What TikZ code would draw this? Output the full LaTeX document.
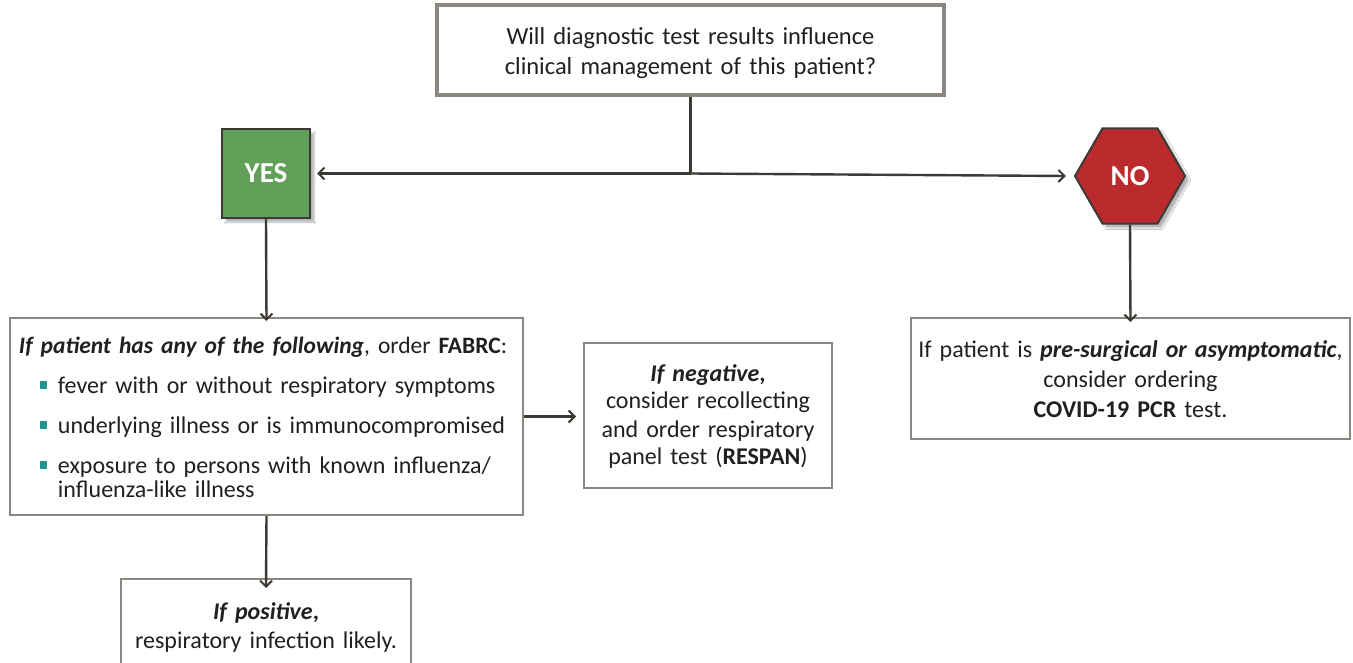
\documentclass[tikz,border=0pt]{standalone}
\usepackage{fontspec}
\setmainfont{Carlito}
\usetikzlibrary{arrows.meta,shapes.geometric,shadows.blur}
\definecolor{boxgray}{HTML}{8B8680}
\definecolor{linedark}{HTML}{3D3A36}
\definecolor{yesgreen}{HTML}{62A05A}
\definecolor{nored}{HTML}{BB2A2C}
\definecolor{bulteal}{HTML}{23938F}
\definecolor{txt}{HTML}{231F20}
\newcommand{\bul}{\textcolor{bulteal}{\rule[0.18em]{0.3em}{0.3em}}}
\begin{document}
\begin{tikzpicture}[x=1pt,y=-1pt,
  infobox/.style={draw=boxgray,line width=2pt,fill=white,text=txt,inner sep=0pt,align=center,font=\fontsize{24}{29}\selectfont},
  conn/.style={draw=linedark,line width=2.4pt},
  arr/.style={conn,-{Straight Barb[length=6pt,width=12pt,line width=2pt]}},
  decision/.style={draw=linedark,line width=2pt,text=white,font=\fontsize{29}{30}\selectfont\bfseries,inner sep=0pt,
    blur shadow={shadow xshift=4pt,shadow yshift=-4pt,shadow blur steps=6,shadow opacity=30}}
]
\useasboundingbox[fill=white] (0,0) rectangle (1353,663);

\node[infobox,line width=4pt,minimum width=507pt,minimum height=90pt,text width=497pt,
  text height=40pt,text depth=50pt,font=\fontsize{24.5}{29.5}\selectfont] (q) at (690.5,50)
  {Will diagnostic test results influence\\clinical management of this patient?};

\node[decision,fill=yesgreen,minimum width=88pt,minimum height=89pt] (yes) at (266,173.5) {YES};
\node[decision,fill=nored,regular polygon,regular polygon sides=6,minimum size=110pt] (no) at (1130,176) {NO};

\node[infobox,minimum width=513pt,minimum height=197pt,align=left,text width=495pt,
  text height=35pt,text depth=162pt,font=\fontsize{24}{24}\selectfont] (fab) at (266.5,416.5)
  {\makebox[0pt][l]{\fontsize{23.5}{24}\selectfont\textbf{\textit{If patient has any of the following}}, order \textbf{FABRC}:}\\[16pt]
   \makebox[39pt][r]{\bul\hspace{11pt}}fever with or without respiratory symptoms\\[16pt]
   \makebox[39pt][r]{\bul\hspace{11pt}}underlying illness or is immunocompromised\\[16pt]
   \makebox[39pt][r]{\bul\hspace{11pt}}exposure to persons with known influenza/\\
   \makebox[39pt]{}influenza-like illness};

\node[infobox,minimum width=248pt,minimum height=145pt,text width=238pt,
  text height=38pt,text depth=107pt,font=\fontsize{24}{28}\selectfont] (neg) at (708,415.5)
  {\textbf{\textit{If negative},}\\consider recollecting\\and order respiratory\\panel test (\textbf{RESPAN})};

\node[infobox,minimum width=290pt,minimum height=100pt,text width=280pt,anchor=north,
  text height=40pt,text depth=60pt] (pos) at (266,578)
  {\textbf{\textit{If positive},}\\respiratory infection likely.};

\node[infobox,minimum width=439pt,minimum height=121pt,text width=435pt,
  text height=39pt,text depth=82pt,font=\fontsize{24}{30}\selectfont] (cov) at (1130.5,378.5)
  {If patient is \textbf{\textit{pre-surgical or asymptomatic}},\\consider ordering\\\textbf{COVID-19 PCR} test.};

\coordinate (split) at (q.south |- yes.east);
\draw[conn] (q.south) -- (split);
\draw[arr] (split) -- ([xshift=6pt]yes.east);
\draw[arr] (split) -- ([xshift=-8pt]no.west);
\draw[arr] (yes.south) -- ([yshift=-4pt]fab.north);
\draw[arr] (no.south) -- ([yshift=-5pt]cov.north);
\draw[arr] (fab.east) -- ([xshift=-7pt]neg.west |- fab.east);
\draw[arr] (fab.south) -- ([yshift=-10pt]pos.north);
\end{tikzpicture}
\end{document}
